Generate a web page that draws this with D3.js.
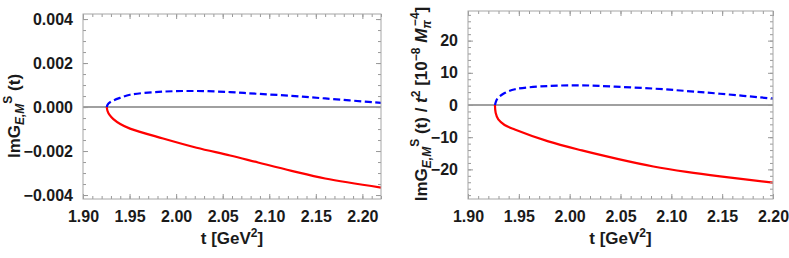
<!DOCTYPE html>
<html>
<head>
<meta charset="utf-8">
<script src="https://cdn.jsdelivr.net/npm/d3@7"></script>
<style>
  body { margin: 0; background: #fff; }
  svg text { font-family: "Liberation Sans", Arial, sans-serif; font-weight: bold; fill: #1a1a1a; }
</style>
</head>
<body>
<div id="chart"></div>
<script>
// left panel: ImG^S_{E,M}(t)
const leftBlueT = [1.9255, 1.9265, 1.9285, 1.9326, 1.94, 1.9505, 1.986, 2.022, 2.058, 2.088, 2.124, 2.16, 2.22];
const leftBlueV = [0, 0.00011, 0.0002, 0.0003, 0.00042, 0.00056, 0.0007, 0.00073, 0.00068, 0.0006, 0.00051, 0.00039, 0.00019];
const leftRedT = [1.9255, 1.9265, 1.9285, 1.9326, 1.94, 1.9505, 1.986, 2.022, 2.058, 2.088, 2.124, 2.16, 2.22];
const leftRedV = [0, -0.0002, -0.00036, -0.00055, -0.00077, -0.00098, -0.00143, -0.00185, -0.0022, -0.00252, -0.0029, -0.00325, -0.00366];
const leftXTicks = [1.90, 1.95, 2.00, 2.05, 2.10, 2.15, 2.20];
const leftYTicks = [-0.004, -0.002, 0, 0.002, 0.004];

// right panel: ImG^S_{E,M}(t) / t^2  [1e-8 Mpi^-4]
const rightBlueT = [1.9265, 1.928, 1.9298, 1.936, 1.9462, 1.979, 2.0118, 2.0446, 2.0823, 2.115, 2.148, 2.20];
const rightBlueV = [0, 1.5, 2.3, 3.7, 4.9, 5.9, 6.1, 5.7, 5.1, 4.35, 3.5, 2.0];
const rightRedT = [1.9265, 1.9272, 1.9298, 1.936, 1.946, 1.979, 2.012, 2.048, 2.0823, 2.115, 2.148, 2.20];
const rightRedV = [0, -2.4, -4.5, -6.2, -7.6, -11.3, -14.1, -16.8, -19.1, -20.8, -22.2, -24.1];
const rightXTicks = [1.90, 1.95, 2.00, 2.05, 2.10, 2.15, 2.20];
const rightYTicks = [-20, -10, 0, 10, 20];

const W = 789, H = 258;
const svg = d3.select('#chart').append('svg')
    .attr('width', W).attr('height', H);

function drawPanel(p) {
    const x = d3.scaleLinear().domain(p.xDomain).range([p.left, p.right]);
    const y = d3.scaleLinear().domain(p.yDomain).range([p.bottom, p.top]);
    const g = svg.append('g');

    // zero line
    g.append('line')
        .attr('x1', p.left).attr('x2', p.right)
        .attr('y1', y(0)).attr('y2', y(0))
        .attr('stroke', '#808080').attr('stroke-width', 1.4);

    const line = d3.line().x(d => x(d[0])).y(d => y(d[1])).curve(d3.curveCatmullRom.alpha(0.5));

    g.append('path')
        .datum(d3.zip(p.redT, p.redV))
        .attr('d', line)
        .attr('fill', 'none').attr('stroke', '#ff0000').attr('stroke-width', 2.2);

    g.append('path')
        .datum(d3.zip(p.blueT, p.blueV))
        .attr('d', line)
        .attr('fill', 'none').attr('stroke', '#0000ff').attr('stroke-width', 2.2)
        .attr('stroke-dasharray', '7,3.5');

    // frame ticks, all four sides, pointing inwards
    const xMinor = d3.range(p.xDomain[0], p.xDomain[1] + 1e-9, 0.01);
    const yMinor = d3.range(Math.ceil(p.yDomain[0] / p.yMinorStep) * p.yMinorStep, p.yDomain[1], p.yMinorStep);
    const tickCol = '#999';
    const bottomAxis = d3.axisBottom(x).tickValues(xMinor).tickSize(-3).tickFormat('');
    const topAxis = d3.axisTop(x).tickValues(xMinor).tickSize(-3).tickFormat('');
    const leftAxis = d3.axisLeft(y).tickValues(yMinor).tickSize(-3).tickFormat('');
    const rightAxis = d3.axisRight(y).tickValues(yMinor).tickSize(-3).tickFormat('');
    const bottomMajor = d3.axisBottom(x).tickValues(p.xTicks).tickSize(-5).tickPadding(12).tickFormat(d3.format('.2f'));
    const topMajor = d3.axisTop(x).tickValues(p.xTicks).tickSize(-5).tickFormat('');
    const leftMajor = d3.axisLeft(y).tickValues(p.yTicks).tickSize(-5).tickPadding(10).tickFormat(p.yFormat);
    const rightMajor = d3.axisRight(y).tickValues(p.yTicks).tickSize(-5).tickFormat('');

    const place = [
        [bottomAxis, 0, p.bottom], [topAxis, 0, p.top], [leftAxis, p.left, 0], [rightAxis, p.right, 0],
        [bottomMajor, 0, p.bottom], [topMajor, 0, p.top], [leftMajor, p.left, 0], [rightMajor, p.right, 0]
    ];
    place.forEach(([ax, tx, ty]) => {
        const a = g.append('g').attr('transform', 'translate(' + tx + ',' + ty + ')').call(ax);
        a.select('.domain').remove();
        a.selectAll('line').attr('stroke', tickCol);
        a.selectAll('text').attr('font-size', 16).attr('font-family', null).attr('fill', '#1a1a1a');
    });

    // frame
    g.append('rect')
        .attr('x', p.left).attr('y', p.top)
        .attr('width', p.right - p.left).attr('height', p.bottom - p.top)
        .attr('fill', 'none').attr('stroke', '#a6a6a6').attr('stroke-width', 1);

    // x title
    const xt = g.append('text')
        .attr('x', (p.left + p.right) / 2).attr('y', 244)
        .attr('text-anchor', 'middle').attr('font-size', 17);
    xt.append('tspan').text('t [GeV');
    xt.append('tspan').attr('dy', -7).attr('font-size', 12).text('2');
    xt.append('tspan').attr('dy', 7).text(']');

    // y title
    const yt = g.append('text')
        .attr('transform', 'translate(' + p.yTitleX + ',' + p.yTitleY + ') rotate(-90)')
        .attr('text-anchor', 'middle').attr('font-size', 17);
    p.yTitle(yt);
}

function imG(t) {
    t.append('tspan').text('ImG');
    t.append('tspan').attr('dy', 4).attr('font-size', 12).attr('font-style', 'italic').text('E,M');
    t.append('tspan').attr('dy', -12).attr('font-size', 12).text('S');
    t.append('tspan').attr('dy', 8).text(' (t)');
}

drawPanel({
    left: 83, right: 381, top: 14, bottom: 199,
    xDomain: [1.90, 2.22], yDomain: [-0.00418, 0.00423],
    xTicks: leftXTicks, yTicks: leftYTicks, yMinorStep: 0.0005,
    yFormat: d => d3.format('.3f')(d).replace('-', '\u2212'),
    blueT: leftBlueT, blueV: leftBlueV, redT: leftRedT, redV: leftRedV,
    yTitleX: 20, yTitleY: 116,
    yTitle: imG
});

drawPanel({
    left: 468, right: 773, top: 11, bottom: 199,
    xDomain: [1.90, 2.20], yDomain: [-29.2, 29.2],
    xTicks: rightXTicks, yTicks: rightYTicks, yMinorStep: 2,
    yFormat: d => d3.format('d')(d).replace('-', '\u2212'),
    blueT: rightBlueT, blueV: rightBlueV, redT: rightRedT, redV: rightRedV,
    yTitleX: 427, yTitleY: 104,
    yTitle: t => {
        imG(t);
        t.append('tspan').text(' / ');
        t.append('tspan').attr('font-style', 'italic').text('t');
        t.append('tspan').attr('dy', -7).attr('font-size', 12).text('2');
        t.append('tspan').attr('dy', 7).text(' [10');
        t.append('tspan').attr('dy', -7).attr('font-size', 12).text('\u22128');
        t.append('tspan').attr('dy', 7).text(' ');
        t.append('tspan').attr('font-style', 'italic').text('M');
        t.append('tspan').attr('dy', 4).attr('font-size', 12).attr('font-style', 'italic').text('\u03c0');
        t.append('tspan').attr('dy', -12).attr('dx', -6).attr('font-size', 12).text('\u22124');
        t.append('tspan').attr('dy', 8).text(']');
    }
});
</script>
</body>
</html>
